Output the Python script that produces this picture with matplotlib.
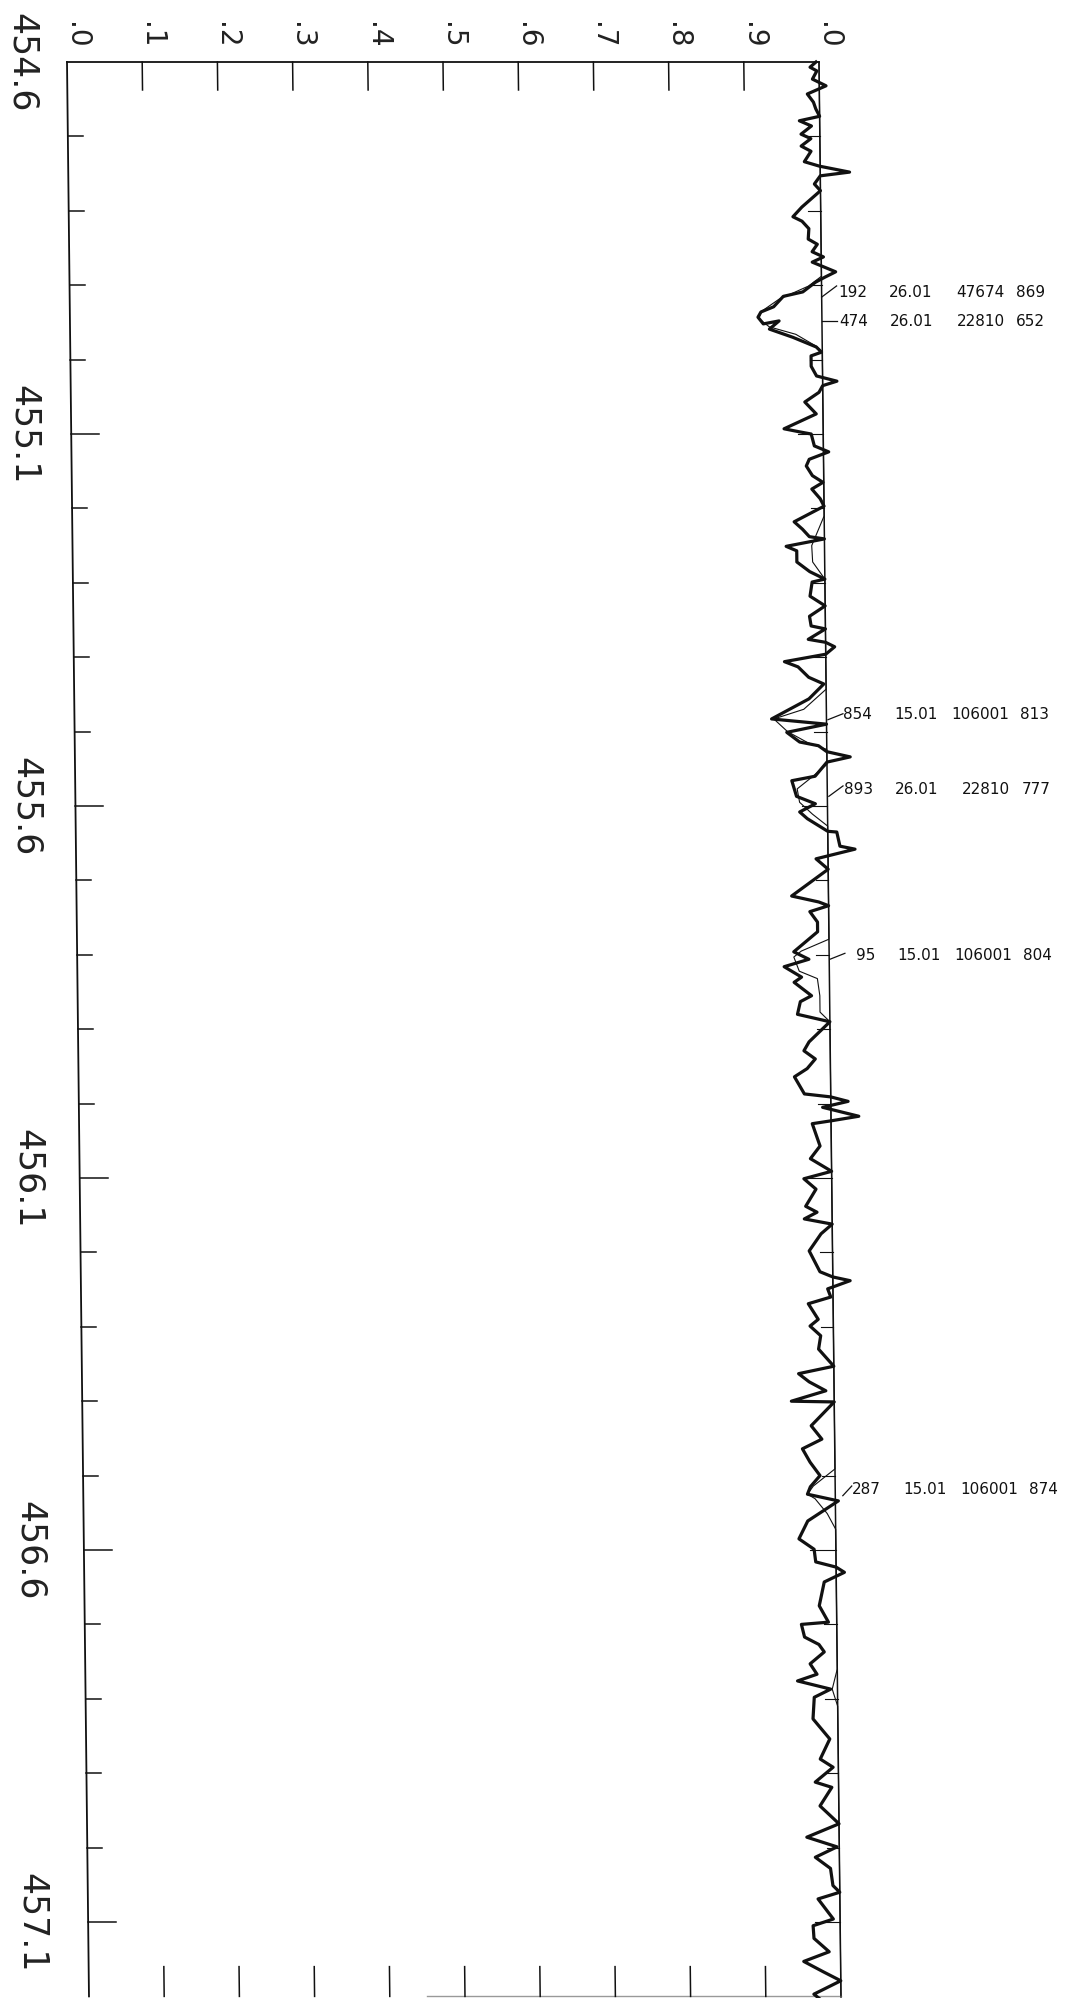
import matplotlib
matplotlib.use("Agg")
import matplotlib.pyplot as plt
import matplotlib.transforms as mtransforms
import numpy as np

# observed spectrum (bold trace): wavelength [nm] / relative intensity
obs_wl = [454.600, 454.607, 454.612, 454.623, 454.632, 454.643, 454.654, 454.663, 454.673, 454.679,
          454.686, 454.697, 454.703, 454.713, 454.720, 454.734, 454.740, 454.748, 454.753, 454.764,
          454.773, 454.788, 454.795, 454.808, 454.814, 454.824, 454.838, 454.845, 454.855, 454.862,
          454.869, 454.874, 454.882, 454.889, 454.896, 454.909, 454.915, 454.929, 454.936, 454.943,
          454.952, 454.948, 454.959, 454.970, 454.983, 454.990, 454.995, 455.009, 455.022, 455.029,
          455.035, 455.044, 455.057, 455.073, 455.093, 455.097, 455.100, 455.116, 455.124, 455.134,
          455.143, 455.156, 455.165, 455.174, 455.187, 455.197, 455.218, 455.228, 455.238, 455.241,
          455.251, 455.257, 455.272, 455.285, 455.295, 455.299, 455.318, 455.331, 455.345, 455.358,
          455.362, 455.376, 455.380, 455.386, 455.396, 455.406, 455.413, 455.427, 455.436, 455.456,
          455.483, 455.490, 455.501, 455.514, 455.519, 455.527, 455.534, 455.541, 455.560, 455.566,
          455.587, 455.597, 455.608, 455.617, 455.634, 455.635, 455.654, 455.658, 455.667, 455.671,
          455.685, 455.721, 455.729, 455.734, 455.742, 455.756, 455.769, 455.796, 455.806, 455.816,
          455.830, 455.837, 455.855, 455.863, 455.880, 455.890, 455.917, 455.929, 455.940, 455.953,
          455.964, 455.987, 455.991, 455.997, 456.005, 456.017, 456.023, 456.027, 456.057, 456.074,
          456.091, 456.101, 456.115, 456.138, 456.146, 456.155, 456.162, 456.175, 456.198, 456.226,
          456.233, 456.238, 456.249, 456.260, 456.269, 456.290, 456.299, 456.312, 456.330, 456.353,
          456.363, 456.374, 456.386, 456.400, 456.401, 456.433, 456.451, 456.464, 456.482, 456.500,
          456.515, 456.525, 456.534, 456.561, 456.585, 456.599, 456.616, 456.623, 456.630, 456.643,
          456.675, 456.697, 456.700, 456.717, 456.727, 456.737, 456.753, 456.767, 456.776, 456.787,
          456.798, 456.827, 456.854, 456.881, 456.892, 456.912, 456.919, 456.944, 456.968, 456.986,
          456.999, 457.013, 457.028, 457.051, 457.060, 457.069, 457.096, 457.105, 457.122, 457.140,
          457.153, 457.167, 457.179, 457.197, 457.210]
obs_int = [0.996, 0.988, 0.997, 0.991, 1.009, 0.984, 0.992, 0.995, 1.000, 0.973,
           0.989, 0.975, 0.988, 0.975, 0.988, 0.979, 0.999, 1.039, 1.000, 0.992,
           1.000, 0.983, 0.975, 0.963, 0.975, 0.984, 0.983, 0.995, 0.988, 1.003,
           0.988, 1.000, 1.019, 1.005, 0.992, 0.975, 0.949, 0.936, 0.919, 0.915,
           0.922, 0.943, 0.930, 0.961, 0.992, 0.999, 0.985, 0.985, 0.992, 1.019,
           1.000, 0.995, 0.976, 0.991, 0.948, 0.968, 0.984, 0.988, 1.007, 0.981,
           0.977, 0.985, 0.999, 0.984, 0.995, 1.000, 0.960, 0.971, 0.980, 1.000,
           0.949, 0.963, 0.963, 0.980, 1.000, 0.983, 0.980, 1.000, 0.979, 0.981,
           1.000, 0.977, 1.000, 1.012, 1.000, 0.945, 0.963, 0.977, 0.997, 0.977,
           0.927, 1.000, 0.947, 0.964, 0.989, 1.000, 1.031, 1.000, 0.984, 0.953,
           0.959, 0.984, 0.963, 0.973, 1.000, 1.012, 1.016, 1.036, 1.000, 0.984,
           1.000, 0.951, 0.987, 1.000, 0.975, 0.985, 0.985, 0.953, 0.973, 0.940,
           0.963, 0.953, 0.976, 0.961, 0.957, 1.000, 0.972, 0.965, 0.980, 0.969,
           0.952, 0.965, 1.000, 1.023, 0.989, 1.037, 1.001, 0.975, 0.985, 0.972,
           1.000, 0.963, 0.979, 0.965, 0.980, 0.963, 1.000, 0.985, 0.969, 0.983,
           1.000, 1.023, 0.993, 0.997, 0.967, 0.980, 0.969, 0.983, 0.980, 1.000,
           0.953, 0.967, 0.989, 0.943, 1.000, 0.969, 0.983, 0.957, 0.967, 0.980,
           0.967, 0.963, 1.004, 0.963, 0.951, 0.971, 0.973, 1.000, 1.011, 0.984,
           0.977, 0.989, 0.953, 0.957, 0.976, 0.983, 0.964, 0.973, 0.947, 0.991,
           0.969, 0.967, 0.989, 0.976, 0.993, 0.969, 0.991, 0.975, 1.000, 0.957,
           0.997, 0.968, 0.988, 0.991, 1.000, 0.971, 0.991, 0.964, 0.965, 0.985,
           0.951, 0.977, 1.000, 0.964, 0.980]

# synthetic spectrum (thin trace)
syn_wl = [454.600, 454.888, 454.901, 454.919, 454.935, 454.945, 454.956, 454.966, 454.982, 454.990,
          455.210, 455.250, 455.272, 455.295, 455.443, 455.470, 455.483, 455.500, 455.515, 455.524,
          455.544, 455.561, 455.577, 455.595, 455.611, 455.627, 455.779, 455.795, 455.803, 455.822,
          455.832, 455.855, 455.877, 455.890, 456.491, 456.514, 456.525, 456.531, 456.551, 456.572,
          456.760, 456.787, 456.810, 457.210]
syn_int = [1.000, 1.000, 0.983, 0.943, 0.920, 0.916, 0.930, 0.965, 0.992, 1.000,
           1.000, 0.983, 0.984, 1.000, 1.000, 0.970, 0.930, 0.948, 0.975, 1.000,
           1.000, 0.980, 0.960, 0.963, 0.980, 1.000, 1.000, 0.963, 0.953, 0.960,
           0.984, 0.987, 0.987, 1.000, 1.000, 0.971, 0.963, 0.973, 0.989, 1.000,
           1.000, 0.993, 1.000, 1.000]

# line identifications
id_numbers = ['192', '474', '854', '893', '95', '287']
id_dates = ['26.01', '26.01', '15.01', '26.01', '15.01', '15.01']
id_codes = ['47674', '22810', '106001', '22810', '106001', '106001']
id_values = ['869', '652', '813', '777', '804', '874']
id_text_wl = [454.908, 454.948, 455.476, 455.577, 455.800, 456.517]
leader_start = [(1.000, 454.916), (1.000, 454.948), (1.002, 455.484),
                (1.002, 455.587), (1.001, 455.806), (1.010, 456.527)]
leader_end = [(1.020, 454.901), (1.020, 454.948), (1.022, 455.476),
              (1.021, 455.573), (1.021, 455.798), (1.022, 456.514)]

wl_labels = ['454.6', '455.1', '455.6', '456.1', '456.6', '457.1']
int_labels = ['.0', '.1', '.2', '.3', '.4', '.5', '.6', '.7', '.8', '.9', '.0']

W, H = 1076, 1999
WL_MIN, WL_MAX = 454.6, 457.2
fig = plt.figure(figsize=(W / 100, H / 100), dpi=100)
fig.patch.set_facecolor('white')
ax = fig.add_axes([67 / W, 1 - 1997.4 / H, 752 / W, (1997.4 - 63) / H])
ax.set_xlim(0, 1)
ax.set_ylim(WL_MAX, WL_MIN)
ax.axis('off')

# the scanned sheet is slightly sheared: bottom sits ~22 px right of the top
k = 22 / 1936
ytop = H - 63
shear = mtransforms.Affine2D(np.array([[1, -k, k * ytop], [0, 1, 0], [0, 0, 1]]))
tr = ax.transData + shear

ink = '#111111'

# frame
ax.plot([0, 0], [WL_MIN, WL_MAX], color=ink, lw=1.3, transform=tr, clip_on=False)
ax.plot([0, 1], [WL_MIN, WL_MIN], color=ink, lw=1.3, transform=tr, clip_on=False)
ax.plot([1, 1], [WL_MIN, WL_MAX], color=ink, lw=1.1, transform=tr, clip_on=False)
ax.plot([0.45, 1], [WL_MAX, WL_MAX], color='#999999', lw=1.0, transform=tr, clip_on=False)

# wavelength ticks (left side and on the continuum line)
wl_ticks = np.round(np.arange(454.7, 457.15, 0.1), 1)
for w in wl_ticks:
    is_major = any(np.isclose(w, float(s)) for s in wl_labels)
    L = 0.037 if is_major else 0.020
    ax.plot([0, L], [w, w], color=ink, lw=1.1, transform=tr, clip_on=False)
    L2 = 0.034 if is_major else 0.017
    ax.plot([1 - L2, 1], [w, w], color=ink, lw=0.8, transform=tr, clip_on=False)

# intensity ticks (top and bottom)
for i in range(1, 10):
    x = i / 10
    ax.plot([x, x], [WL_MIN, WL_MIN + 0.0376], color=ink, lw=1.1, transform=tr, clip_on=False)
    ax.plot([x, x], [WL_MAX, WL_MAX - 0.040], color=ink, lw=1.1, transform=tr, clip_on=False)

# tick labels
for i, s in enumerate(int_labels):
    ax.text(i / 10 + 0.012, WL_MIN - 0.0375, s, rotation=-90, ha='center', va='center',
            fontsize=20, color='#222222', transform=tr, clip_on=False)
for j, s in enumerate(wl_labels):
    ax.text(-0.060 - 0.003 * j, float(s), s, rotation=-90, ha='center', va='center',
            fontsize=25, color='#222222', transform=tr, clip_on=False)

# spectra
ax.plot(syn_int, syn_wl, color=ink, lw=0.8, transform=tr, clip_on=False)
ax.plot(obs_int, obs_wl, color=ink, lw=2.3, transform=tr, clip_on=False,
        solid_joinstyle='round')

# identifications
for n, d, c, v, wl, a, b in zip(id_numbers, id_dates, id_codes, id_values, id_text_wl,
                                 leader_start, leader_end):
    ax.plot([a[0], b[0]], [a[1], b[1]], color=ink, lw=0.9, transform=tr, clip_on=False)
    ax.text(1.061, wl, n, ha='right', va='center', fontsize=11, color=ink, transform=tr)
    ax.text(1.090, wl, d, ha='left', va='center', fontsize=11, color=ink, transform=tr)
    ax.text(1.243, wl, c, ha='right', va='center', fontsize=11, color=ink, transform=tr)
    ax.text(1.258, wl, v, ha='left', va='center', fontsize=11, color=ink, transform=tr)

fig.savefig('out.png', dpi=100, facecolor='white')
